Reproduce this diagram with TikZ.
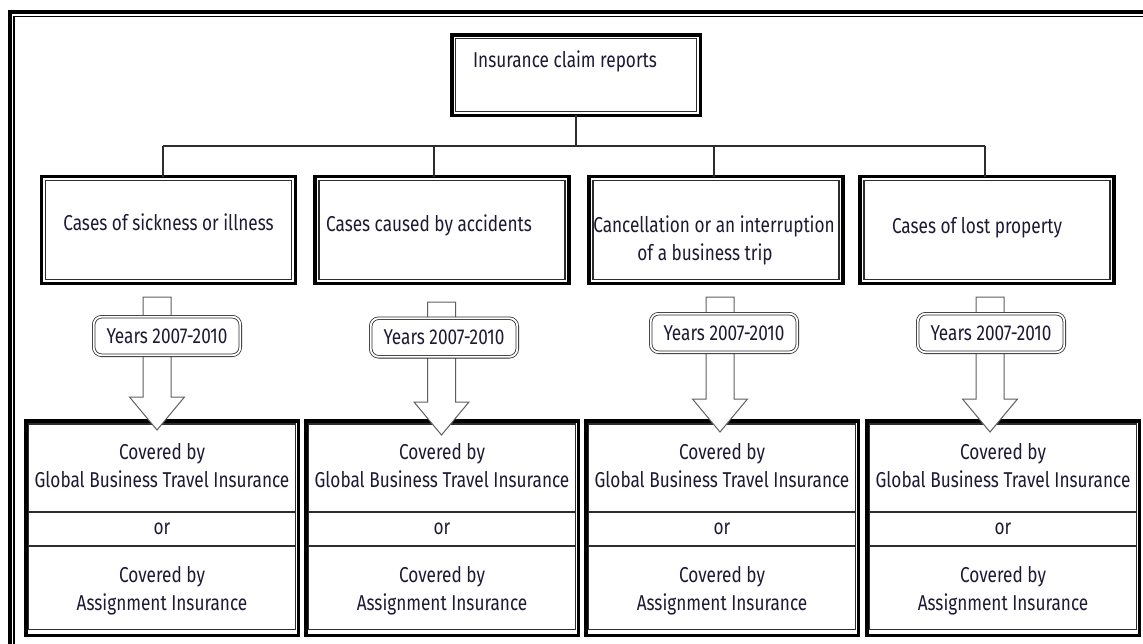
\documentclass[tikz,border=0pt]{standalone}
\usepackage{fontspec}
\setmainfont{Fira Sans}[FakeStretch=0.8]
\definecolor{ink}{RGB}{28,26,52}
\definecolor{edge}{RGB}{45,45,45}
\definecolor{arrowgray}{RGB}{95,95,95}
% hollow block arrow from the top of its stem (#1) down to its tip (#2)
\newcommand\hollowarrow[2]{%
  \draw[blockarrow] ([xshift=-14pt]#1) -- ([xshift=14pt]#1)
    -- ([xshift=14pt,yshift=33pt]#2) -- ([xshift=27.5pt,yshift=33pt]#2)
    -- (#2) -- ([xshift=-27.5pt,yshift=33pt]#2)
    -- ([xshift=-14pt,yshift=33pt]#2) -- cycle;}
\begin{document}
\begin{tikzpicture}[x=1pt,y=-1pt,
  every node/.style={font=\fontsize{21.5}{28}\selectfont, text=ink},
  heavybox/.style={draw=black, line width=3.5pt, inner sep=0pt, outer sep=0pt, fill=white},
  innerline/.style={draw=edge, line width=1.2pt},
  plainbox/.style={draw=edge, line width=1.2pt, inner sep=0pt, outer sep=0pt, align=center},
  bus/.style={draw=edge, line width=1.2pt},
  yearbox/.style={draw=edge, line width=0.8pt, double=white, double distance=1.8pt,
    rounded corners=8pt, fill=white, minimum width=146.6pt, minimum height=38.6pt, inner sep=0pt},
  blockarrow/.style={draw=arrowgray, line width=1pt, fill=white, line join=miter},
  caselabel/.style={align=center, inner sep=0pt},
]
\useasboundingbox (0,0) rectangle (1143,643);
\clip (0,0) rectangle (1143,643);

% page frame, running past the right and bottom edges
\draw[black, line width=4pt] (10.3,12) rectangle (1200,700);
\draw[black, line width=1.7pt] (14.3,16.5) rectangle (1200,700);

% root box
\node[heavybox, minimum width=248.5pt, minimum height=80.5pt] (root) at (576,75) {};
\node[caselabel] (roott) at ([xshift=-11pt,yshift=14pt]root.center) {Insurance claim reports};

% category boxes
\node[heavybox, minimum width=254pt, minimum height=107pt] (c1) at (168.5,230) {};
\node[heavybox, minimum width=254pt, minimum height=107pt] (c2) at (442,230) {};
\node[heavybox, minimum width=254pt, minimum height=107pt] (c3) at (716,230) {};
\node[heavybox, minimum width=254pt, minimum height=107pt] (c4) at (987,230) {};
\foreach \n in {root,c1,c2,c3,c4}
  \draw[innerline] ([xshift=4pt,yshift=-4pt]\n.north west) rectangle ([xshift=-4pt,yshift=4pt]\n.south east);
\node[caselabel] (c1t) at ([yshift=8pt]c1.center) {Cases of sickness or illness};
\node[caselabel] (c2t) at ([xshift=-13pt,yshift=5pt]c2.center) {Cases caused by accidents};
\node[caselabel] (c3t) at ([xshift=-2pt,yshift=-10.5pt]c3.center) {Cancellation or an interruption\\of a business trip\kern18pt};
\node[caselabel] (c4t) at ([xshift=-10pt,yshift=2pt]c4.center) {Cases of lost property};

% tree connectors
\coordinate (hub) at (576,146);
\coordinate (b1) at (163,146);
\coordinate (b2) at (434,146);
\coordinate (b3) at (714,146);
\coordinate (b4) at (985,146);
\draw[bus] (root.south) -- (hub);
\draw[bus] (b1) -- (b4);
\draw[bus] (b1) -- (b1 |- c1.north);
\draw[bus] (b2) -- (b2 |- c2.north);
\draw[bus] (b3) -- (b3 |- c3.north);
\draw[bus] (b4) -- (b4 |- c4.north);

% coverage panels
\foreach \i/\x in {1/162,2/442,3/722,4/1003}{
  \node[heavybox, minimum width=272.5pt, minimum height=214.5pt] (p\i) at (\x,528) {};
  \node[plainbox, minimum width=267pt, minimum height=88pt] (g\i) at (\x,468)
    {\begin{tabular}{@{}c@{}}Covered by\\Global Business Travel Insurance\end{tabular}};
  \node[plainbox, minimum width=267pt, minimum height=83.5pt] (a\i) at (\x,587.75)
    {\raisebox{-3pt}[\height][\depth]{\begin{tabular}{@{}c@{}}Covered by\\Assignment Insurance\end{tabular}}};
  \draw[innerline] (g\i.north west) rectangle (a\i.south east);
  \node[caselabel] (or\i) at (\x,529) {or};
}

% block arrows with their period tags
\coordinate (s1) at (157,297);   \coordinate (t1) at (157,430);
\coordinate (s2) at (441.5,302); \coordinate (t2) at (441.5,435);
\coordinate (s3) at (720,297);   \coordinate (t3) at (720,432);
\coordinate (s4) at (990,297);   \coordinate (t4) at (990,432);
\hollowarrow{s1}{t1}
\hollowarrow{s2}{t2}
\hollowarrow{s3}{t3}
\hollowarrow{s4}{t4}
\node[yearbox] (y1) at (167,336)   {Years 2007-2010};
\node[yearbox] (y2) at (444,337.5) {Years 2007-2010};
\node[yearbox] (y3) at (724,333)   {Years 2007-2010};
\node[yearbox] (y4) at (991,333)   {Years 2007-2010};
\end{tikzpicture}
\end{document}
